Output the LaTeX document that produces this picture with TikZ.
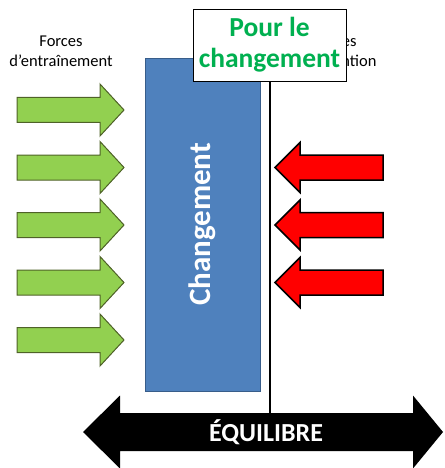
\documentclass[tikz,border=0pt]{standalone}
\usepackage{fontspec}
\setmainfont{Carlito}
\definecolor{chgblue}{HTML}{4F81BD}
\definecolor{chgedge}{HTML}{385D8A}
\definecolor{pushgreen}{HTML}{92D050}
\definecolor{pushedge}{HTML}{4F6228}
\definecolor{titlegreen}{HTML}{00B050}
\tikzset{
  label text/.style={font=\fontsize{16.5}{20}\selectfont, align=center, inner sep=0pt},
  drive arrow/.style={fill=pushgreen, draw=pushedge, line width=1pt},
  resist arrow/.style={fill=red, draw=black, line width=1.5pt},
  % horizontal block arrow: tail x, tip x, head base x, centre y, half shaft, half head
  pics/blockarrow/.style args={#1/#2/#3/#4/#5/#6}{code={
    \path[pic actions] (#1,#4-#5) -- (#3,#4-#5) -- (#3,#4-#6) -- (#2,#4)
      -- (#3,#4+#6) -- (#3,#4+#5) -- (#1,#4+#5) -- cycle;
  }},
}
\begin{document}
\begin{tikzpicture}[x=1pt, y=-1pt]
\useasboundingbox (0,0) rectangle (444,468);

% column headings
\node[label text] (drivehead) at (61,51) {Forces\\d’entraînement};
\node[label text] (resisthead) at (335,51) {Forces\\de rétention};

% driving forces
\foreach \yy in {110,167.5,225,282.5,340}
  \pic[drive arrow] {blockarrow={17/124/100/\yy/12.5/26}};

% restraining forces
\foreach \yy in {167.5,225,282.5}
  \pic[resist arrow] {blockarrow={383/275/300/\yy/12.5/25}};

% the change block
\node[rotate=90, fill=chgblue, draw=chgedge, line width=0.75pt, minimum width=333pt,
      minimum height=115pt, text=white, font=\bfseries\fontsize{31}{36}\selectfont]
      (chg) at (202.5,224.5) {Changement};

% flag and equilibrium axis
\coordinate (axistop) at (270,413);
\node[draw=black, fill=white, line width=0.75pt, minimum width=153pt, minimum height=72pt,
      inner sep=0pt, align=center, text=titlegreen,
      font=\bfseries\fontsize{27.5}{31}\selectfont] (pour) at (269.5,45) {Pour le\\changement};
\draw[line width=2pt] (pour.south) -- (pour.south |- axistop);

% equilibrium double arrow
\fill[black] (83,432) -- (120,395.5) -- (120,413) -- (413,413) -- (413,395.5) -- (443,432)
  -- (413,468.5) -- (413,451) -- (120,451) -- (120,468.5) -- cycle;
\node[text=white, font=\bfseries\fontsize{26}{30}\selectfont, inner sep=0pt] (eq) at (266,432) {ÉQUILIBRE};
\end{tikzpicture}
\end{document}
